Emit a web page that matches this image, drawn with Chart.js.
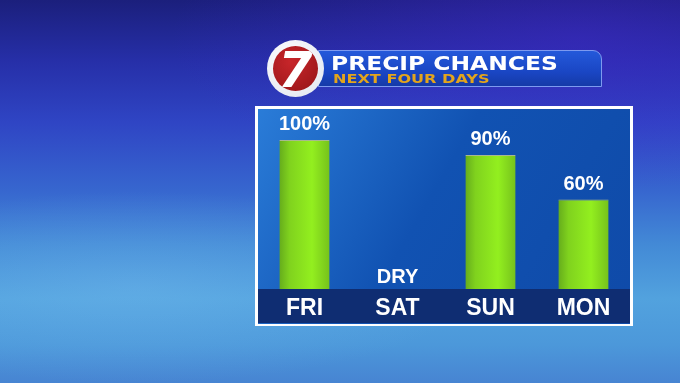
<!DOCTYPE html>
<html lang="en">
    <head>
        <meta charset="utf-8" />
        <title>Precip Chances</title>
        <script src="https://cdn.jsdelivr.net/npm/chart.js"></script>
        <style>
            html, body { margin: 0; padding: 0; }
            body {
              width: 680px;
              height: 383px;
              overflow: hidden;
              position: relative;
              background:
                radial-gradient(ellipse 60% 40% at 85% 10%, rgba(70, 40, 210, 0.45), transparent),
                radial-gradient(ellipse 50% 25% at 20% 75%, rgba(120, 190, 240, 0.35), transparent),
                linear-gradient(180deg, #1b1f7c 0%, #262fa8 16%, #2f45c4 32%, #3767cf 50%, #438ad6 64%, #52a2de 78%, #4c98da 90%, #4784d2 100%);
              font-family: "Liberation Sans", Arial, sans-serif;
            }
            #chart { position: absolute; left: 0; top: 0; }
            #banner {
              position: absolute;
              left: 318px; top: 50px;
              width: 282px; height: 35px;
              border: 1px solid #7d9af0;
              border-radius: 0 9px 0 0;
              background: linear-gradient(180deg, #2459da 0%, #1a46c4 60%, #153aa8 100%);
            }
            #title {
              position: absolute;
              left: 331px; top: 51px;
              font: bold 20px "DejaVu Sans", sans-serif;
              color: #fff;
              white-space: nowrap;
              transform: scaleX(1.17);
              transform-origin: left top;
            }
            #subtitle {
              position: absolute;
              left: 333px; top: 72px;
              font: bold 12px "DejaVu Sans", sans-serif;
              color: #e3a51c;
              white-space: nowrap;
              transform: scaleX(1.34);
              transform-origin: left top;
            }
            #logo {
              position: absolute;
              left: 267px; top: 40px;
              width: 57px; height: 57px;
              border-radius: 50%;
              background: radial-gradient(circle at 40% 35%, #ffffff, #dfe4ee);
            }
            #logo-red {
              position: absolute;
              left: 6px; top: 6px;
              width: 45px; height: 45px;
              border-radius: 50%;
              background: radial-gradient(circle at 40% 35%, #c8262a, #941418);
              color: #fff;
              font: italic bold 50px "DejaVu Sans", sans-serif;
              line-height: 48px;
              text-align: center;
              overflow: hidden;
            }
        </style>
    </head>
    <body>
        <canvas id="chart" width="680" height="383"></canvas>
        <div id="banner"></div>
        <div id="logo"><div id="logo-red">7</div></div>
        <div id="title">PRECIP CHANCES</div>
        <div id="subtitle">NEXT FOUR DAYS</div>
        <script>
            const days = ["FRI", "SAT", "SUN", "MON"];
            const chances = [100, 0, 90, 60];
            const noRainLabel = "DRY";

            // panel behind the bars + dark day strip
            const panelPlugin = {
              id: "panel",
              beforeDraw(chart) {
                const { ctx, chartArea: ca } = chart;
                const top = ca.top - 31, bottom = ca.bottom + 35;
                ctx.save();
                ctx.fillStyle = "#ffffff";
                ctx.fillRect(ca.left - 3, top - 3, ca.right - ca.left + 6, bottom - top + 5);
                const g = ctx.createLinearGradient(ca.left, top, ca.right, bottom);
                g.addColorStop(0, "#2a7cd8");
                g.addColorStop(0.45, "#1152b2");
                g.addColorStop(1, "#0f4aa8");
                ctx.fillStyle = g;
                ctx.fillRect(ca.left, top, ca.right - ca.left, bottom - top);
                ctx.fillStyle = "#0f2d72";
                ctx.fillRect(ca.left, ca.bottom, ca.right - ca.left, bottom - ca.bottom - 1);
                ctx.restore();
              },
              afterDatasetsDraw(chart) {
                const { ctx, chartArea: ca } = chart;
                const meta = chart.getDatasetMeta(0);
                ctx.save();
                ctx.fillStyle = "#ffffff";
                ctx.font = "bold 20px 'Liberation Sans', Arial, sans-serif";
                ctx.textAlign = "center";
                ctx.textBaseline = "alphabetic";
                meta.data.forEach((bar, i) => {
                  const v = chances[i];
                  if (v === 0) {
                    ctx.fillText(noRainLabel, bar.x, ca.bottom - 6);
                  } else {
                    ctx.fillText(v + "%", bar.x, bar.y - 10);
                  }
                });
                ctx.restore();
              }
            };

            function barFill(context) {
              const chart = context.chart;
              if (!chart.chartArea) return "#8ee41e";
              const x = chart.scales.x.getPixelForValue(context.dataIndex);
              const g = chart.ctx.createLinearGradient(x - 25, 0, x + 25, 0);
              g.addColorStop(0, "#66ad1c");
              g.addColorStop(0.2, "#80d21e");
              g.addColorStop(0.65, "#93ef1f");
              g.addColorStop(1, "#76c21c");
              return g;
            }

            new Chart(document.getElementById("chart"), {
              type: "bar",
              data: {
                labels: days,
                datasets: [{
                  data: chances,
                  backgroundColor: barFill,
                  borderColor: "#a8b890",
                  borderWidth: { top: 1, left: 0, right: 0, bottom: 0 },
                  barPercentage: 0.54,
                  categoryPercentage: 1
                }]
              },
              options: {
                responsive: false,
                animation: false,
                layout: { padding: { left: 258, right: 50, top: 140, bottom: 60 } },
                plugins: { legend: { display: false }, tooltip: { enabled: false } },
                scales: {
                  x: {
                    grid: { display: false, drawTicks: false },
                    border: { display: false },
                    afterFit(scale) { scale.height = 34; },
                    ticks: {
                      color: "#ffffff",
                      padding: 6,
                      font: { family: "'Liberation Sans', Arial, sans-serif", size: 23, weight: "bold" }
                    }
                  },
                  y: {
                    display: false,
                    min: 0,
                    max: 100
                  }
                }
              },
              plugins: [panelPlugin]
            });
        </script>
    </body>
</html>
